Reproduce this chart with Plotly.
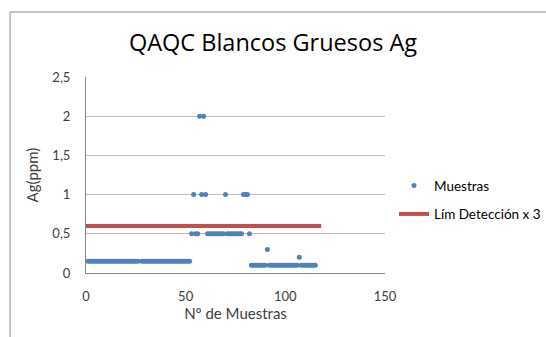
import plotly.graph_objects as go

# Sample number and measured Ag (ppm) for each blank
sample_no = list(range(1, 116))
ag_ppm = [
    0.15, 0.15, 0.15, 0.15, 0.15, 0.15, 0.15, 0.15, 0.15, 0.15,
    0.15, 0.15, 0.15, 0.15, 0.15, 0.15, 0.15, 0.15, 0.15, 0.15,
    0.15, 0.15, 0.15, 0.15, 0.15, 0.15, None, 0.15, 0.15, 0.15,
    0.15, 0.15, 0.15, 0.15, 0.15, 0.15, 0.15, 0.15, 0.15, 0.15,
    0.15, 0.15, 0.15, 0.15, 0.15, 0.15, 0.15, 0.15, 0.15, 0.15,
    0.15, 0.15, 0.5, 1, 0.5, 0.5, 2, 1, 2, 1,
    0.5, 0.5, 0.5, 0.5, 0.5, 0.5, 0.5, 0.5, 0.5, 1,
    0.5, 0.5, 0.5, 0.5, 0.5, 0.5, 0.5, 0.5, 1, 1,
    1, 0.5, 0.1, 0.1, 0.1, 0.1, 0.1, 0.1, 0.1, 0.1,
    0.3, 0.1, 0.1, 0.1, 0.1, 0.1, 0.1, 0.1, 0.1, 0.1,
    0.1, 0.1, 0.1, 0.1, 0.1, 0.1, 0.2, 0.1, 0.1, 0.1,
    0.1, 0.1, 0.1, 0.1, 0.1,
]

# Detection limit x 3 reference line
limit_x = [0, 118]
limit_y = [0.6, 0.6]

x_ticks = [0, 50, 100, 150]
y_ticks = [0, 0.5, 1, 1.5, 2, 2.5]

BLUE = "#4F81BD"
RED = "#C0504D"
FONT = "Lato"

fig = go.Figure()
fig.add_trace(go.Scatter(
    x=sample_no, y=ag_ppm, mode="markers", name="Muestras",
    marker=dict(color=BLUE, size=5, line=dict(width=0)),
    cliponaxis=False, legendgroup="m",
))
fig.add_trace(go.Scatter(
    x=limit_x, y=limit_y, mode="lines", name="Lím Detección x 3",
    line=dict(color=RED, width=4), legendgroup="l",
))

axis_common = dict(
    showline=True, linecolor="#868686", linewidth=1,
    ticks="", zeroline=False,
    tickfont=dict(family=FONT, size=13, color="#404040"),
    title_font=dict(family=FONT, size=15, color="#404040"),
)
fig.update_xaxes(
    range=[0, 150], tickvals=x_ticks, showgrid=False,
    title_text="Nº de Muestras", title_standoff=4, ticklabelstandoff=11,
    **axis_common,
)
fig.update_yaxes(
    range=[0, 2.5], tickvals=y_ticks, showgrid=True, gridcolor="#BFBFBF",
    gridwidth=1, title_text="Ag(ppm)", title_standoff=10, ticklabelstandoff=12,
    **axis_common,
)

fig.update_layout(
    width=546, height=337,
    margin=dict(l=86, r=161, t=77, b=64, autoexpand=False),
    paper_bgcolor="white", plot_bgcolor="white",
    separators=",.",
    title=dict(
        text="QAQC Blancos Gruesos Ag",
        font=dict(family="Open Sans", size=23.5, color="#000000"),
        x=0.5, xanchor="center", y=0.872, yanchor="middle", xref="container",
    ),
    legend=dict(
        x=1.03, y=0.525, xanchor="left", yanchor="top",
        font=dict(family=FONT, size=13.5, color="#000000"),
        itemwidth=30, traceorder="grouped", tracegroupgap=8,
        bgcolor="rgba(0,0,0,0)",
    ),
    shapes=[dict(
        type="path", xref="paper", yref="paper",
        path="M -0.254,-0.33 L -0.254,1.3315 L 1.55,1.3315",
        line=dict(color="#8C8C8C", width=1),
    )],
)

fig.write_html("out.html")
